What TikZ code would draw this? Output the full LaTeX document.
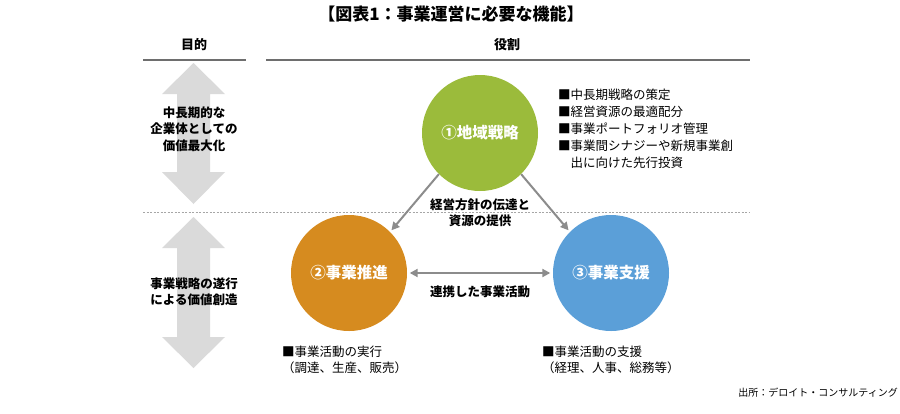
\documentclass[tikz,border=0pt]{standalone}
\usepackage{fontspec}
\setmainfont{Noto Sans CJK JP}
\usetikzlibrary{arrows.meta}
\definecolor{cgreen}{HTML}{9BBB3B}
\definecolor{corange}{HTML}{D68B1F}
\definecolor{cblue}{HTML}{5B9FD8}
\definecolor{cconn}{HTML}{8C8C8C}
\definecolor{cbig}{HTML}{DADADA}
\definecolor{chead}{HTML}{6E6E6E}
\definecolor{cdash}{HTML}{A6A6A6}
\tikzset{
  role/.style={circle, minimum size=116pt, inner sep=0pt, text=white, font=\bfseries\fontsize{15.5}{18}\selectfont},
  conn/.style={draw=cconn, line width=2pt, -{Triangle[length=8pt,width=8pt]}, shorten >=2pt},
  bigarrow/.style={fill=cbig},
  headline/.style={draw=chead, line width=2pt},
  lbl/.style={inner sep=0pt, align=center, font=\bfseries\fontsize{12.5}{16.5}\selectfont},
  bul/.style={inner sep=0pt, align=left, anchor=west, font=\fontsize{12.5}{16.5}\selectfont},
}
\begin{document}
\begin{tikzpicture}[x=1pt,y=-1pt]
\useasboundingbox (0,0) rectangle (900,413);
% title
\node[inner sep=0pt, font=\bfseries\fontsize{17}{20}\selectfont] (title) at (451,14) {【図表1：事業運営に必要な機能】};
% headers
\node[inner sep=0pt, font=\bfseries\fontsize{13}{16}\selectfont] (h1) at (194,45) {目的};
\node[inner sep=0pt, font=\bfseries\fontsize{13}{16}\selectfont] (h2) at (507,45) {役割};
\coordinate (l1a) at (143,60); \coordinate (l1b) at (246,60);
\coordinate (l2a) at (266,60); \coordinate (l2b) at (750,60);
\draw[headline] (l1a) -- (l1b);
\draw[headline] (l2a) -- (l2b);
\coordinate (da) at (143,212); \coordinate (db) at (750,212);
\draw[cdash, line width=0.6pt, dash pattern=on 2pt off 1.5pt] (da) -- (db);
% big double arrows
\fill[bigarrow] (193.5,63) -- (225,94) -- (210,94) -- (210,172) -- (225,172) -- (193.5,204) -- (162,172) -- (177,172) -- (177,94) -- (162,94) -- cycle;
\fill[bigarrow] (193.5,217) -- (225,248) -- (210,248) -- (210,337) -- (225,337) -- (193.5,368) -- (162,337) -- (177,337) -- (177,248) -- (162,248) -- cycle;
\node[lbl] (p1) at (194,129) {中長期的な\\企業体としての\\価値最大化};
\node[lbl] (p2) at (194,291.5) {事業戦略の遂行\\による価値創造};
% circles
\node[role, fill=cgreen] (g) at (480,133) {①地域戦略};
\node[role, fill=corange] (o) at (349,273) {②事業推進};
\node[role, fill=cblue] (b) at (611,273) {③事業支援};
% connectors
\draw[conn] (g.-135) -- (o.45);
\draw[conn] (g.-45) -- (b.135);
\draw[conn, {Triangle[length=8pt,width=8pt]}-{Triangle[length=8pt,width=8pt]}, shorten <=2.5pt, shorten >=2.5pt] (o.east) -- (b.west);
% labels
\node[lbl] (c1) at (480,212.5) {経営方針の伝達と\\資源の提供};
\node[lbl] (c2) at (480,292) {連携した事業活動};
% bullets
\node[bul, font=\fontsize{12.5}{17}\selectfont] (t1) at (558,128.5) {■中長期戦略の策定\\■経営資源の最適配分\\■事業ポートフォリオ管理\\■事業間シナジーや新規事業創\\\phantom{■}出に向けた先行投資};
\node[bul] (t2) at (282,360) {■事業活動の実行\\（調達、生産、販売）};
\node[bul] (t3) at (542,360) {■事業活動の支援\\（経理、人事、総務等）};
% source
\node[inner sep=0pt, anchor=east, font=\fontsize{10}{12}\selectfont] (src) at (898,393) {出所：デロイト・コンサルティング};
\end{tikzpicture}
\end{document}
